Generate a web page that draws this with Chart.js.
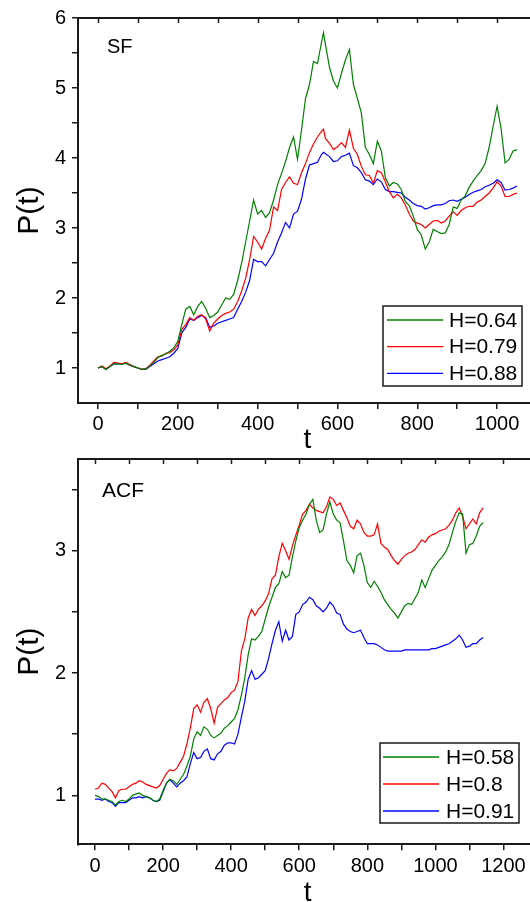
<!DOCTYPE html>
<html><head><meta charset="utf-8">
<script src="https://cdn.jsdelivr.net/npm/chart.js@4.4.0/dist/chart.umd.min.js"></script>
<style>html,body{margin:0;padding:0;overflow:hidden;background:#fff;width:530px;height:902px}canvas{display:block}</style>
</head><body>
<canvas id="c1" width="545" height="450"></canvas>
<canvas id="c2" width="545" height="452"></canvas>
<script>
// ---------- SF panel ----------
const sfT = [0,10,20,30,40,50,60,70,80,90,100,110,120,130,140,150,160,170,180,190,200,210,220,230,240,250,260,270,280,290,300,310,320,330,340,350,360,370,380,390,400,410,420,430,440,450,460,470,480,490,500,510,520,530,540,550,560,565,570,580,590,600,610,620,630,640,650,660,670,680,690,700,710,720,730,740,750,760,770,780,790,800,810,820,830,840,850,860,870,880,890,900,910,920,930,940,950,960,970,980,990,1000,1010,1020,1030,1040,1050];
const sfH064 = [1.00,1.02,0.98,1.02,1.06,1.06,1.05,1.07,1.04,1.02,1.00,0.98,0.99,1.03,1.08,1.15,1.18,1.20,1.24,1.29,1.38,1.62,1.84,1.88,1.76,1.88,1.95,1.85,1.72,1.75,1.80,1.90,2.00,1.98,2.05,2.25,2.50,2.80,3.10,3.40,3.20,3.25,3.15,3.22,3.40,3.62,3.78,3.95,4.15,4.30,3.98,4.40,4.85,5.05,5.38,5.35,5.65,5.79,5.62,5.30,5.10,5.00,5.21,5.40,5.55,5.05,4.85,4.64,4.15,4.05,3.92,4.24,4.10,3.72,3.60,3.65,3.63,3.55,3.38,3.32,3.17,2.98,2.90,2.70,2.80,2.98,2.95,2.92,2.93,3.05,3.30,3.28,3.40,3.46,3.58,3.67,3.75,3.82,3.92,4.15,4.45,4.74,4.42,3.93,3.98,4.10,4.12];
const sfH079 = [1.00,1.03,0.99,1.03,1.08,1.07,1.06,1.08,1.05,1.02,1.00,0.98,0.99,1.04,1.10,1.16,1.17,1.21,1.22,1.26,1.33,1.55,1.62,1.72,1.68,1.74,1.76,1.70,1.53,1.64,1.70,1.75,1.78,1.80,1.84,1.95,2.10,2.28,2.55,2.88,2.80,2.70,2.85,2.97,3.30,3.25,3.55,3.65,3.73,3.64,3.62,3.79,3.92,4.08,4.20,4.30,4.38,4.41,4.28,4.21,4.12,4.16,4.22,4.15,4.40,4.14,4.05,3.88,3.76,3.75,3.64,3.82,3.79,3.66,3.52,3.43,3.48,3.43,3.33,3.20,3.10,3.07,3.05,3.00,3.05,3.10,3.11,3.07,3.10,3.17,3.23,3.18,3.25,3.29,3.31,3.31,3.37,3.40,3.45,3.50,3.57,3.66,3.60,3.45,3.45,3.48,3.50];
const sfH088 = [1.00,1.02,0.98,1.02,1.06,1.06,1.06,1.07,1.04,1.02,1.00,0.98,0.98,1.02,1.06,1.10,1.12,1.14,1.16,1.21,1.28,1.50,1.58,1.70,1.68,1.72,1.75,1.72,1.58,1.60,1.64,1.66,1.68,1.70,1.72,1.84,1.95,2.08,2.25,2.55,2.52,2.52,2.46,2.55,2.64,2.80,2.93,3.08,3.00,3.20,3.24,3.41,3.70,3.90,3.92,3.94,4.05,4.08,4.06,4.02,3.95,3.96,4.02,4.04,4.07,3.89,3.86,3.79,3.69,3.67,3.62,3.70,3.66,3.55,3.52,3.52,3.51,3.50,3.44,3.40,3.35,3.32,3.31,3.27,3.29,3.32,3.33,3.33,3.35,3.39,3.40,3.38,3.41,3.44,3.48,3.51,3.53,3.55,3.59,3.61,3.64,3.69,3.65,3.54,3.55,3.57,3.60];
const sfXTicks = [0,100,200,300,400,500,600,700,800,900,1000];
const sfYTicks = [1,1.5,2,2.5,3,3.5,4,4.5,5,5.5,6];

// ---------- ACF panel ----------
const acfT = [0,10,20,30,40,50,60,70,80,90,100,110,120,130,140,150,160,170,180,190,200,210,220,230,240,250,260,270,280,290,300,310,320,330,340,350,360,370,380,390,400,410,420,430,440,450,460,470,480,490,500,510,520,530,540,550,560,570,580,590,600,610,620,630,640,650,660,670,680,690,700,710,720,730,740,750,760,770,780,790,800,810,820,830,840,850,860,870,880,890,900,910,920,930,940,950,960,970,980,990,1000,1010,1020,1030,1040,1050,1060,1070,1080,1090,1100,1110,1120,1130,1140];
const acfH058 = [1.00,0.99,0.97,0.97,0.96,0.95,0.92,0.95,0.96,0.95,0.97,1.00,1.01,1.02,1.00,0.99,0.98,0.96,0.95,0.97,1.04,1.10,1.13,1.12,1.09,1.13,1.17,1.24,1.32,1.46,1.52,1.49,1.56,1.54,1.49,1.47,1.49,1.51,1.55,1.57,1.60,1.63,1.70,1.82,1.96,2.15,2.28,2.27,2.30,2.34,2.44,2.54,2.62,2.70,2.73,2.83,2.78,2.80,2.95,3.08,3.19,3.25,3.30,3.38,3.42,3.25,3.15,3.17,3.30,3.40,3.30,3.25,3.23,3.08,2.92,2.88,2.82,2.96,2.98,2.88,2.74,2.70,2.75,2.71,2.66,2.60,2.56,2.52,2.49,2.45,2.50,2.55,2.57,2.56,2.61,2.66,2.76,2.70,2.77,2.84,2.88,2.92,2.95,2.99,3.05,3.15,3.24,3.31,3.30,2.98,3.05,3.06,3.12,3.20,3.23];
const acfH08 = [1.05,1.06,1.10,1.09,1.06,1.03,0.98,1.04,1.05,1.05,1.07,1.09,1.10,1.12,1.11,1.09,1.08,1.07,1.06,1.08,1.13,1.18,1.21,1.20,1.22,1.27,1.32,1.42,1.55,1.71,1.74,1.68,1.76,1.79,1.71,1.59,1.72,1.75,1.78,1.80,1.84,1.86,1.93,2.18,2.28,2.45,2.52,2.47,2.52,2.55,2.59,2.65,2.77,2.80,2.95,3.06,3.00,2.93,3.04,3.13,3.21,3.30,3.33,3.38,3.35,3.33,3.32,3.31,3.36,3.44,3.42,3.37,3.39,3.33,3.27,3.20,3.18,3.25,3.22,3.15,3.12,3.12,3.13,3.22,3.06,3.03,3.01,2.96,2.92,2.89,2.93,2.96,2.98,2.99,3.01,3.05,3.09,3.07,3.11,3.13,3.14,3.16,3.17,3.18,3.21,3.25,3.31,3.35,3.28,3.18,3.22,3.26,3.22,3.31,3.35];
const acfH091 = [0.97,0.97,0.96,0.97,0.95,0.94,0.91,0.94,0.94,0.94,0.96,0.98,0.98,0.99,0.98,0.99,0.98,0.96,0.95,0.96,1.03,1.10,1.13,1.10,1.07,1.10,1.12,1.15,1.26,1.35,1.30,1.31,1.36,1.38,1.30,1.29,1.34,1.36,1.41,1.43,1.43,1.42,1.50,1.64,1.77,1.95,2.02,1.95,1.96,1.99,2.02,2.12,2.24,2.35,2.42,2.26,2.35,2.27,2.30,2.48,2.50,2.56,2.58,2.62,2.60,2.55,2.53,2.50,2.53,2.58,2.55,2.49,2.48,2.40,2.36,2.34,2.33,2.34,2.35,2.29,2.24,2.24,2.24,2.23,2.21,2.19,2.18,2.18,2.18,2.18,2.18,2.19,2.19,2.19,2.19,2.19,2.19,2.19,2.19,2.20,2.20,2.21,2.22,2.23,2.24,2.26,2.28,2.31,2.27,2.21,2.22,2.24,2.24,2.27,2.29];
const acfXTicks = [0,100,200,300,400,500,600,700,800,900,1000,1100,1200];
const acfYTicks = [1,1.5,2,2.5,3,3.5];

const FONT = "'Liberation Sans', Arial, Helvetica, sans-serif";
const GREEN = '#008000', RED = '#ff0000', BLUE = '#0000ff';

function pts(t, v) { return t.map((x, i) => ({x: x, y: v[i]})); }

const framePlugin = {
  id: 'frame',
  afterDraw(chart, args, o) {
    const {ctx, chartArea: a, scales: {x, y}} = chart;
    ctx.save();
    ctx.strokeStyle = '#1a1a1a';
    ctx.lineWidth = 2;
    ctx.beginPath();
    ctx.moveTo(a.left - 1, a.top); ctx.lineTo(a.right + 1, a.top);
    ctx.moveTo(a.right, a.top); ctx.lineTo(a.right, a.bottom);
    ctx.stroke();
    ctx.lineWidth = 1.5;
    ctx.beginPath();
    x.ticks.forEach(t => { const px = Math.round(x.getPixelForValue(t.value)) + 0.5; ctx.moveTo(px, a.top); ctx.lineTo(px, a.top + 5); });
    y.ticks.forEach(t => { const py = Math.round(y.getPixelForValue(t.value)) + 0.5; ctx.moveTo(a.right, py); ctx.lineTo(a.right - 5, py); });
    ctx.stroke();
    // panel label
    ctx.fillStyle = '#000';
    ctx.font = o.labelFont;
    ctx.textAlign = 'left';
    ctx.textBaseline = 'middle';
    ctx.fillText(o.label, o.labelX, o.labelY);
    // legend
    const L = o.legend;
    ctx.fillStyle = '#fff';
    ctx.fillRect(L.x, L.y, L.w, L.h);
    ctx.lineWidth = 1.5;
    ctx.strokeStyle = '#1a1a1a';
    ctx.strokeRect(L.x, L.y, L.w, L.h);
    ctx.font = L.font;
    chart.data.datasets.forEach((ds, i) => {
      const yy = L.firstY + i * L.rowH;
      ctx.strokeStyle = ds.borderColor;
      ctx.lineWidth = 1.3;
      ctx.beginPath();
      ctx.moveTo(L.lineX0, yy); ctx.lineTo(L.lineX1, yy);
      ctx.stroke();
      ctx.fillStyle = '#000';
      ctx.fillText(ds.label, L.textX, yy + 1);
    });
    ctx.restore();
  }
};

function makeAxes(xr, yr, xTicks, yTicks, xH, tickPadX, titlePadX) {
  const gridCommon = {display: true, drawOnChartArea: false, drawTicks: true, tickLength: 6, color: '#1a1a1a', lineWidth: 1.5};
  return {
    x: {
      type: 'linear', min: xr[0], max: xr[1],
      afterBuildTicks: s => { s.ticks = xTicks.map(v => ({value: v})); },
      afterFit: s => { s.height = xH; s.paddingLeft = 0; s.paddingRight = 0; s.paddingTop = 0; s.paddingBottom = 0; },
      ticks: {autoSkip: false, maxRotation: 0, padding: tickPadX, color: '#000', font: {family: FONT, size: 20},
        callback: v => (v % 200 === 0 ? String(v) : '')},
      grid: gridCommon,
      border: {display: true, color: '#1a1a1a', width: 2},
      title: {display: true, text: 't', color: '#000', font: {family: FONT, size: 28, lineHeight: 1}, padding: {top: 0, bottom: titlePadX}}
    },
    y: {
      type: 'linear', min: yr[0], max: yr[1],
      afterBuildTicks: s => { s.ticks = yTicks.map(v => ({value: v})); },
      afterFit: s => { s.width = 78; s.paddingLeft = 0; s.paddingRight = 0; s.paddingTop = 0; s.paddingBottom = 0; },
      ticks: {autoSkip: false, padding: 6, color: '#000', font: {family: FONT, size: 20},
        callback: v => (Number.isInteger(v) ? String(v) : '')},
      grid: gridCommon,
      border: {display: true, color: '#1a1a1a', width: 2},
      title: {display: true, text: 'P(t)', color: '#000', font: {family: FONT, size: 30, lineHeight: 1}, padding: {top: 15, bottom: 0}}
    }
  };
}

function ds(label, t, v, color) {
  return {label: label, data: pts(t, v), borderColor: color, backgroundColor: color, borderWidth: 1.2, pointRadius: 0, tension: 0, fill: false};
}

new Chart(document.getElementById('c1'), {
  type: 'line',
  data: {datasets: [
    ds('H=0.64', sfT, sfH064, GREEN),
    ds('H=0.79', sfT, sfH079, RED),
    ds('H=0.88', sfT, sfH088, BLUE)
  ]},
  options: {
    responsive: false, animation: false, devicePixelRatio: 1,
    layout: {autoPadding: false, padding: {top: 18, right: 8, left: 0, bottom: 0}},
    plugins: {legend: {display: false}, tooltip: {enabled: false},
      frame: {label: 'SF', labelFont: '20px ' + FONT, labelX: 107, labelY: 47,
        legend: {x: 383, y: 306, w: 139, h: 80, firstY: 320, rowH: 26.7, lineX0: 387, lineX1: 443, textX: 449, font: '21px ' + FONT}}},
    scales: makeAxes([-50, 1100], [0.5, 6], sfXTicks, sfYTicks, 47, 3, -4)
  },
  plugins: [framePlugin]
});

new Chart(document.getElementById('c2'), {
  type: 'line',
  data: {datasets: [
    ds('H=0.58', acfT, acfH058, GREEN),
    ds('H=0.8', acfT, acfH08, RED),
    ds('H=0.91', acfT, acfH091, BLUE)
  ]},
  options: {
    responsive: false, animation: false, devicePixelRatio: 1,
    layout: {autoPadding: false, padding: {top: 9, right: 7.5, left: 0, bottom: 0}},
    plugins: {legend: {display: false}, tooltip: {enabled: false},
      frame: {label: 'ACF', labelFont: '21px ' + FONT, labelX: 102, labelY: 41,
        legend: {x: 380, y: 293, w: 139, h: 80, firstY: 307, rowH: 27, lineX0: 383, lineX1: 439, textX: 446, font: '21px ' + FONT}}},
    scales: makeAxes([-50, 1300], [0.6, 3.75], acfXTicks, acfYTicks, 57.7, 4, -5)
  },
  plugins: [framePlugin]
});
</script>
</body></html>
